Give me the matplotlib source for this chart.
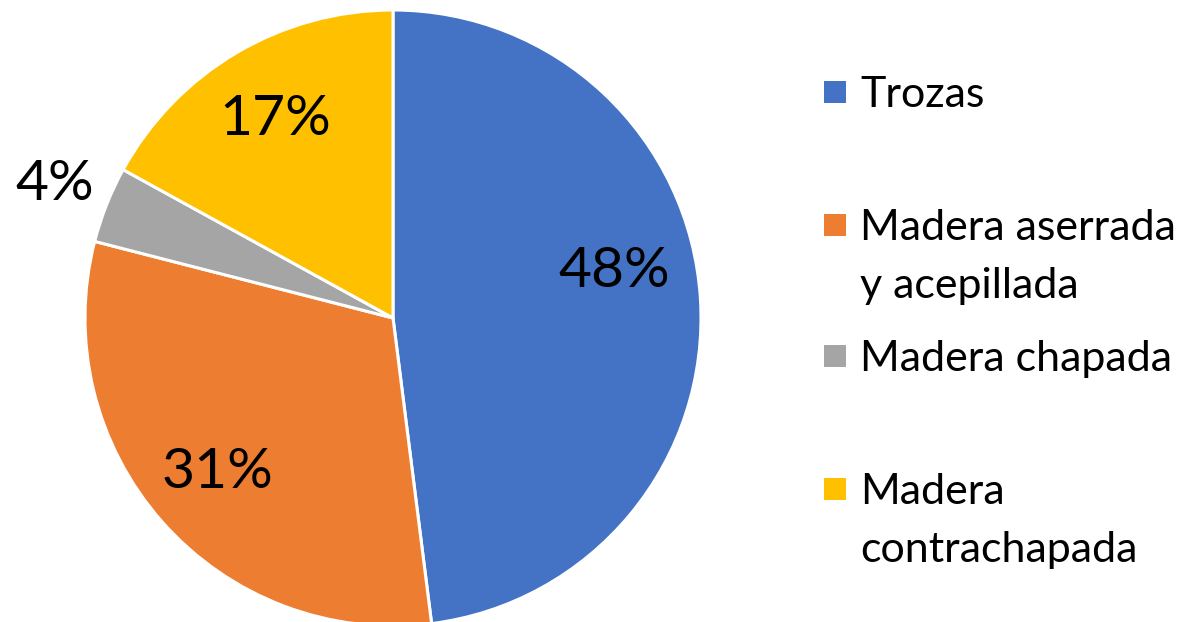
import matplotlib.pyplot as plt
from matplotlib.patches import Rectangle
import numpy as np

plt.rcParams['font.family'] = ['Lato', 'DejaVu Sans']

categorias = ['Trozas', 'Madera aserrada\ny acepillada', 'Madera chapada', 'Madera\ncontrachapada']
valores = [48, 31, 4, 17]
colores = ['#4472C4', '#ED7D31', '#A5A5A5', '#FFC000']

# distancia de cada etiqueta al centro (en radios)
dist_etiq = [0.72, 0.76, 1.18, 0.75]
leyenda_y = [92, 225, 356, 489]  # centro de cada cuadrado, px desde arriba

W, H = 1194, 622
fig = plt.figure(figsize=(W / 100, H / 100), dpi=100)
cx, cy, r = 393, 318, 308
ax = fig.add_axes([(cx - r) / W, (H - cy - r) / H, 2 * r / W, 2 * r / H])

wedges, _ = ax.pie(valores, colors=colores, startangle=90, counterclock=False,
                   wedgeprops=dict(edgecolor='white', linewidth=2.2), radius=1)
ax.set_xlim(-1, 1)
ax.set_ylim(-1, 1)
ax.set_aspect('equal')
ax.axis('off')

for i, w in enumerate(wedges):
    ang = np.deg2rad((w.theta1 + w.theta2) / 2)
    x = dist_etiq[i] * np.cos(ang)
    y = dist_etiq[i] * np.sin(ang)
    if i == 0:
        y = 0.15  # excel lo sube un poco
    ax.text(x, y, f'{valores[i]}%', ha='center', va='center', fontsize=41,
            color='black', clip_on=False)

# leyenda a mano
for cat, col, yc in zip(categorias, colores, leyenda_y):
    fig.patches.append(Rectangle((824 / W, (H - yc - 11) / H), 22 / W, 22 / H,
                                 transform=fig.transFigure, facecolor=col,
                                 edgecolor='none'))
    for k, linea in enumerate(cat.split('\n')):
        fig.text(860 / W, (H - yc - 15 - 58 * k) / H, linea, ha='left', va='baseline',
                 fontsize=31, color='black')

fig.savefig('out.png', dpi=100)
